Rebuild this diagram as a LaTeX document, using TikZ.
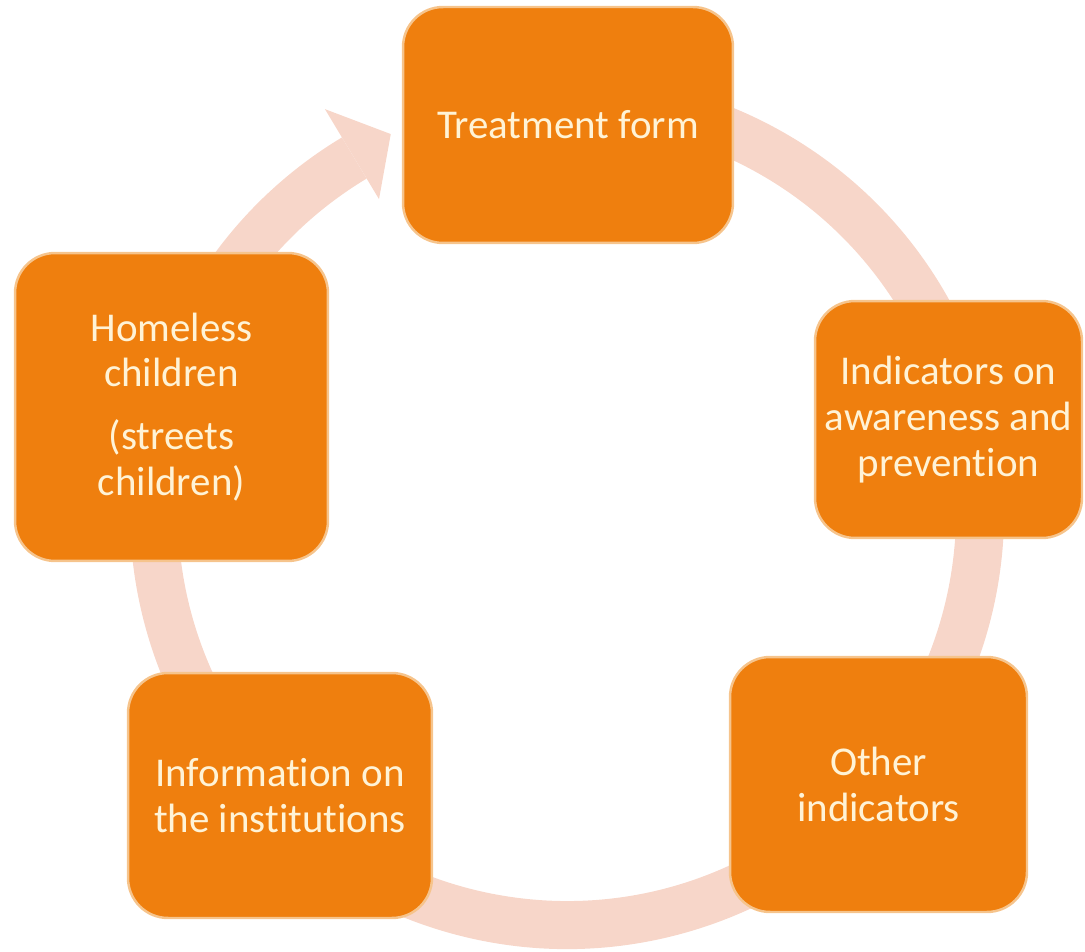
\documentclass[tikz,border=0pt]{standalone}
\usepackage{fontspec}
\setmainfont{Carlito}[RawFeature=-liga]
\usetikzlibrary{calc}
\definecolor{boxfill}{RGB}{239,127,14}
\definecolor{boxedge}{RGB}{246,196,140}
\definecolor{txtcol}{RGB}{255,243,214}
\definecolor{ringcol}{RGB}{247,214,201}
\begin{document}
\begin{tikzpicture}[x=0.02cm,y=0.02cm,
  cyclebox/.style={draw=boxedge, line width=1.4pt, fill=boxfill, rounded corners=0.8cm,
    text=txtcol, align=center, font=\fontsize{23.3}{26}\selectfont, inner sep=0pt}]
\useasboundingbox (0,0) rectangle (1085,951);
\coordinate (c) at (567,439);
% ring body
\fill[ringcol] ($(c)+(110:437)$) arc[start angle=110, end angle=-239, radius=437]
  -- ($(c)+(-239:389)$) arc[start angle=-239, end angle=110, radius=389] -- cycle;
% arrowhead
\fill[ringcol] ($(c)+(121:470)$) -- ($(c)+(115:417)$) -- ($(c)+(121:365)$) -- cycle;
% boxes
\node[cyclebox, minimum width=6.6cm, minimum height=4.72cm] (treat) at (568,826) {Treatment form};
\node[cyclebox, minimum width=5.34cm, minimum height=4.74cm] (ind) at (948.5,531.5) {Indicators on\\awareness and\\prevention};
\node[cyclebox, minimum width=5.94cm, minimum height=5.1cm] (other) at (878.5,166.5) {Other\\indicators};
\node[cyclebox, minimum width=6.08cm, minimum height=4.9cm] (info) at (280,155.5) {Information on\\the institutions};
\node[cyclebox, minimum width=6.26cm, minimum height=6.16cm] (home) at (171.5,544) {Homeless\\children\\[10pt](streets\\children)};
\end{tikzpicture}
\end{document}
